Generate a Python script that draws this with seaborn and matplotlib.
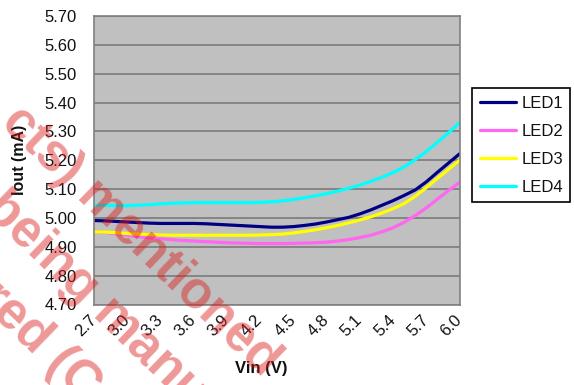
import numpy as np
import pandas as pd
import seaborn as sns
import matplotlib
matplotlib.use("Agg")
import matplotlib.pyplot as plt
from matplotlib.ticker import FixedLocator, FixedFormatter

# Input voltage sweep (V)
vin = [2.7, 2.8, 2.9, 3.0, 3.1, 3.2, 3.3, 3.4, 3.5, 3.6, 3.7, 3.8,
       3.9, 4.0, 4.1, 4.2, 4.3, 4.4, 4.5, 4.6, 4.7, 4.8, 4.9, 5.0,
       5.1, 5.2, 5.3, 5.4, 5.5, 5.6, 5.7, 5.8, 5.9, 6.0]

# Output current per LED channel (mA)
led1 = [4.991, 4.990, 4.988, 4.986, 4.984, 4.982, 4.981, 4.981, 4.981, 4.981,
        4.980, 4.978, 4.976, 4.974, 4.972, 4.970, 4.968, 4.968, 4.970, 4.974,
        4.979, 4.986, 4.994, 5.002, 5.014, 5.028, 5.044, 5.060, 5.078, 5.097,
        5.125, 5.158, 5.190, 5.222]
led2 = [4.952, 4.950, 4.945, 4.940, 4.935, 4.931, 4.928, 4.925, 4.922, 4.920,
        4.918, 4.916, 4.914, 4.913, 4.912, 4.911, 4.911, 4.911, 4.912, 4.913,
        4.914, 4.916, 4.920, 4.925, 4.932, 4.940, 4.952, 4.966, 4.985, 5.008,
        5.035, 5.065, 5.095, 5.123]
led3 = [4.952, 4.951, 4.949, 4.946, 4.944, 4.942, 4.941, 4.940, 4.940, 4.940,
        4.940, 4.940, 4.940, 4.940, 4.940, 4.941, 4.942, 4.944, 4.948, 4.953,
        4.959, 4.966, 4.974, 4.983, 4.993, 5.004, 5.017, 5.032, 5.050, 5.075,
        5.105, 5.137, 5.168, 5.200]
led4 = [5.044, 5.044, 5.043, 5.043, 5.044, 5.046, 5.049, 5.051, 5.052, 5.053,
        5.053, 5.053, 5.053, 5.053, 5.053, 5.054, 5.056, 5.059, 5.064, 5.070,
        5.077, 5.084, 5.093, 5.103, 5.114, 5.127, 5.141, 5.157, 5.177, 5.202,
        5.230, 5.262, 5.295, 5.330]

series_names = ["LED1", "LED2", "LED3", "LED4"]
series_colors = ["#000080", "#FF66F2", "#FFFF00", "#00FFFF"]

x_tick_labels = ["2.7", "3.0", "3.3", "3.6", "3.9", "4.2",
                 "4.5", "4.8", "5.1", "5.4", "5.7", "6.0"]
y_ticks = [4.70, 4.80, 4.90, 5.00, 5.10, 5.20, 5.30, 5.40, 5.50, 5.60, 5.70]

df = pd.concat(
    [pd.DataFrame({"Vin": vin, "Iout": vals, "LED": name})
     for name, vals in zip(series_names, [led1, led2, led3, led4])],
    ignore_index=True,
)

sns.set_theme(style="white")
plt.rcParams["font.family"] = ["Liberation Sans", "DejaVu Sans"]

W, H = 574, 385
fig = plt.figure(figsize=(W / 100, H / 100), dpi=100)
ax = fig.add_axes([94 / W, 1 - 304.5 / H, (459.5 - 94) / W, (304.5 - 16) / H])
ax.set_facecolor("#C0C0C0")

sns.lineplot(data=df, x="Vin", y="Iout", hue="LED", hue_order=series_names,
             palette=series_colors, linewidth=2.3, ax=ax, legend=True)

ax.set_xlim(vin[0], vin[-1])
ax.set_ylim(y_ticks[0], y_ticks[-1])

# y axis
ax.set_yticks(y_ticks)
ax.set_yticklabels([f"{v:.2f}" for v in y_ticks])
ax.yaxis.grid(True, color="#808080", linewidth=1.3)
ax.xaxis.grid(False)
ax.set_axisbelow(True)

# x axis: a tick at every sample, a label at every third one
ax.xaxis.set_major_locator(FixedLocator(vin[::3]))
ax.xaxis.set_major_formatter(FixedFormatter(x_tick_labels))
ax.xaxis.set_minor_locator(FixedLocator(vin))

ax.tick_params(axis="both", which="both", direction="out", color="#808080",
               width=1, length=4.5, labelsize=12, labelcolor="#111111")
ax.tick_params(axis="y", pad=8)
ax.tick_params(axis="x", which="major", pad=5)
for lab in ax.get_xticklabels():
    lab.set_rotation(45)
    lab.set_ha("right")
    lab.set_va("center")
    lab.set_rotation_mode("anchor")

for sp in ax.spines.values():
    sp.set_color("#808080")
    sp.set_linewidth(1.2)

ax.set_xlabel("Vin (V)", fontsize=12, fontweight="bold", color="#111111")
ax.set_ylabel("Iout (mA)", fontsize=11.5, fontweight="bold", color="#111111")
ax.xaxis.set_label_coords((261 - 94) / 366, (304.5 - 361) / 288.5)
ax.yaxis.set_label_coords((27 - 94) / 366, 0.5)

leg = ax.legend(loc="upper left", bbox_to_anchor=(472 / W, 1 - 88 / H),
                bbox_transform=fig.transFigure, borderaxespad=0,
                frameon=True, fancybox=False, edgecolor="black",
                facecolor="white", fontsize=12, handlelength=2.2,
                handletextpad=0.3, labelspacing=0.78, borderpad=0.45,
                title=None)
leg.get_frame().set_linewidth(1.2)
leg.get_frame().set_alpha(1)
for t in leg.get_texts():
    t.set_color("#111111")
for h in leg.get_lines():
    h.set_linewidth(2.3)

# diagonal stamp across the lower left
stamp_kw = dict(fontsize=37, fontweight="bold", color=(0.85, 0.1, 0.1),
                alpha=0.45, rotation=-44, rotation_mode="anchor", zorder=20)
def px(x, y):
    return x / W, 1 - y / H
fig.text(*px(272, 368), "cts) mentioned", ha="right", va="center", **stamp_kw)
fig.text(*px(-8, 200), "being manu", ha="left", va="center", **stamp_kw)
fig.text(*px(-14, 290), "red (C", ha="left", va="center", **stamp_kw)

fig.savefig("out.png", dpi=100)
